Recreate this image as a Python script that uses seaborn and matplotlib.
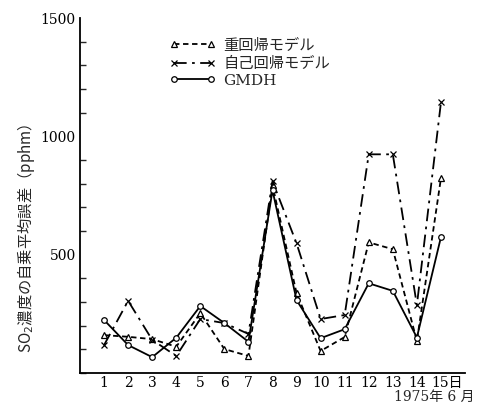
import matplotlib
matplotlib.use("Agg")
import matplotlib.pyplot as plt
import matplotlib.transforms as mtransforms
import seaborn as sns
import pandas as pd
from matplotlib.ticker import MultipleLocator

days = list(range(1, 16))
multi_reg = [160, 153, 143, 111, 253, 101, 72, 793, 337, 93, 152, 552, 523, 135, 823]
auto_reg = [118, 305, 140, 72, 228, 211, 165, 810, 548, 228, 245, 924, 924, 287, 1143]
gmdh = [224, 118, 67, 149, 283, 211, 132, 772, 308, 147, 185, 379, 347, 150, 574]
series_names = ["重回帰モデル", "自己回帰モデル", "GMDH"]
xtick_labels = [str(d) for d in days[:-1]] + ["15日"]

sns.set_theme(style="white")
plt.rcParams['font.family'] = ['DejaVu Serif', 'Noto Sans CJK JP']

fig = plt.figure(figsize=(4.86, 4.03), dpi=100)
ax = fig.add_axes([80/486, 30/403, 385/486, 355/403])

df = pd.DataFrame({"day": days, "multi": multi_reg, "auto": auto_reg, "gmdh": gmdh})
styles = [("multi", (0, (3, 2)), "^"), ("auto", (0, (7, 3, 1.5, 3)), "x"), ("gmdh", "-", "o")]
for (col, ls, mk), name in zip(styles, series_names):
    sns.lineplot(data=df, x="day", y=col, ax=ax, color="black", linewidth=1.3,
                 linestyle=ls, marker=mk, markersize=4, markerfacecolor="white",
                 markeredgecolor="black", markeredgewidth=0.9, label=name)

ax.set_xlim(0, 16)
ax.set_ylim(0, 1500)
ax.set_xticks(days)
ax.set_xticklabels(xtick_labels)
ax.set_yticks([500, 1000, 1500])
ax.yaxis.set_minor_locator(MultipleLocator(100))
ax.tick_params(axis="both", which="major", direction="in", length=5, width=1,
               labelsize=10, colors="black")
ax.tick_params(axis="y", which="minor", direction="in", length=4, width=1, left=True)
ax.tick_params(axis="x", pad=2)
ax.tick_params(axis="y", pad=3)
# shift "15日" so the number sits on its tick
last = ax.get_xticklabels()[-1]
last.set_transform(last.get_transform() +
                   mtransforms.ScaledTranslation(6/100, 0, fig.dpi_scale_trans))
for s in ["top", "right"]:
    ax.spines[s].set_visible(False)
for s in ["left", "bottom"]:
    ax.spines[s].set_color("black")
    ax.spines[s].set_linewidth(1.3)
ax.set_xlabel("")
ax.set_ylabel("SO$_2$濃度の自乗平均誤差（pphm）", fontsize=11,
              family="Noto Sans CJK JP")
ax.yaxis.set_label_coords(-0.112, 0.38)

leg = ax.legend(loc="upper left", bbox_to_anchor=(156/486, 380/403),
                bbox_transform=fig.transFigure, frameon=False, fontsize=11,
                handlelength=3.0, handletextpad=0.5, labelspacing=0.1, numpoints=2)
for t in leg.get_texts():
    if t.get_text() == "GMDH":
        t.set_family("DejaVu Serif")
    else:
        t.set_family("Noto Sans CJK JP")

fig.text(434/486, 1 - 397/403, "1975年 6 月", ha="center", va="center",
         fontsize=10, family=['DejaVu Serif', 'Noto Sans CJK JP'])

fig.savefig("out.png", dpi=100)
